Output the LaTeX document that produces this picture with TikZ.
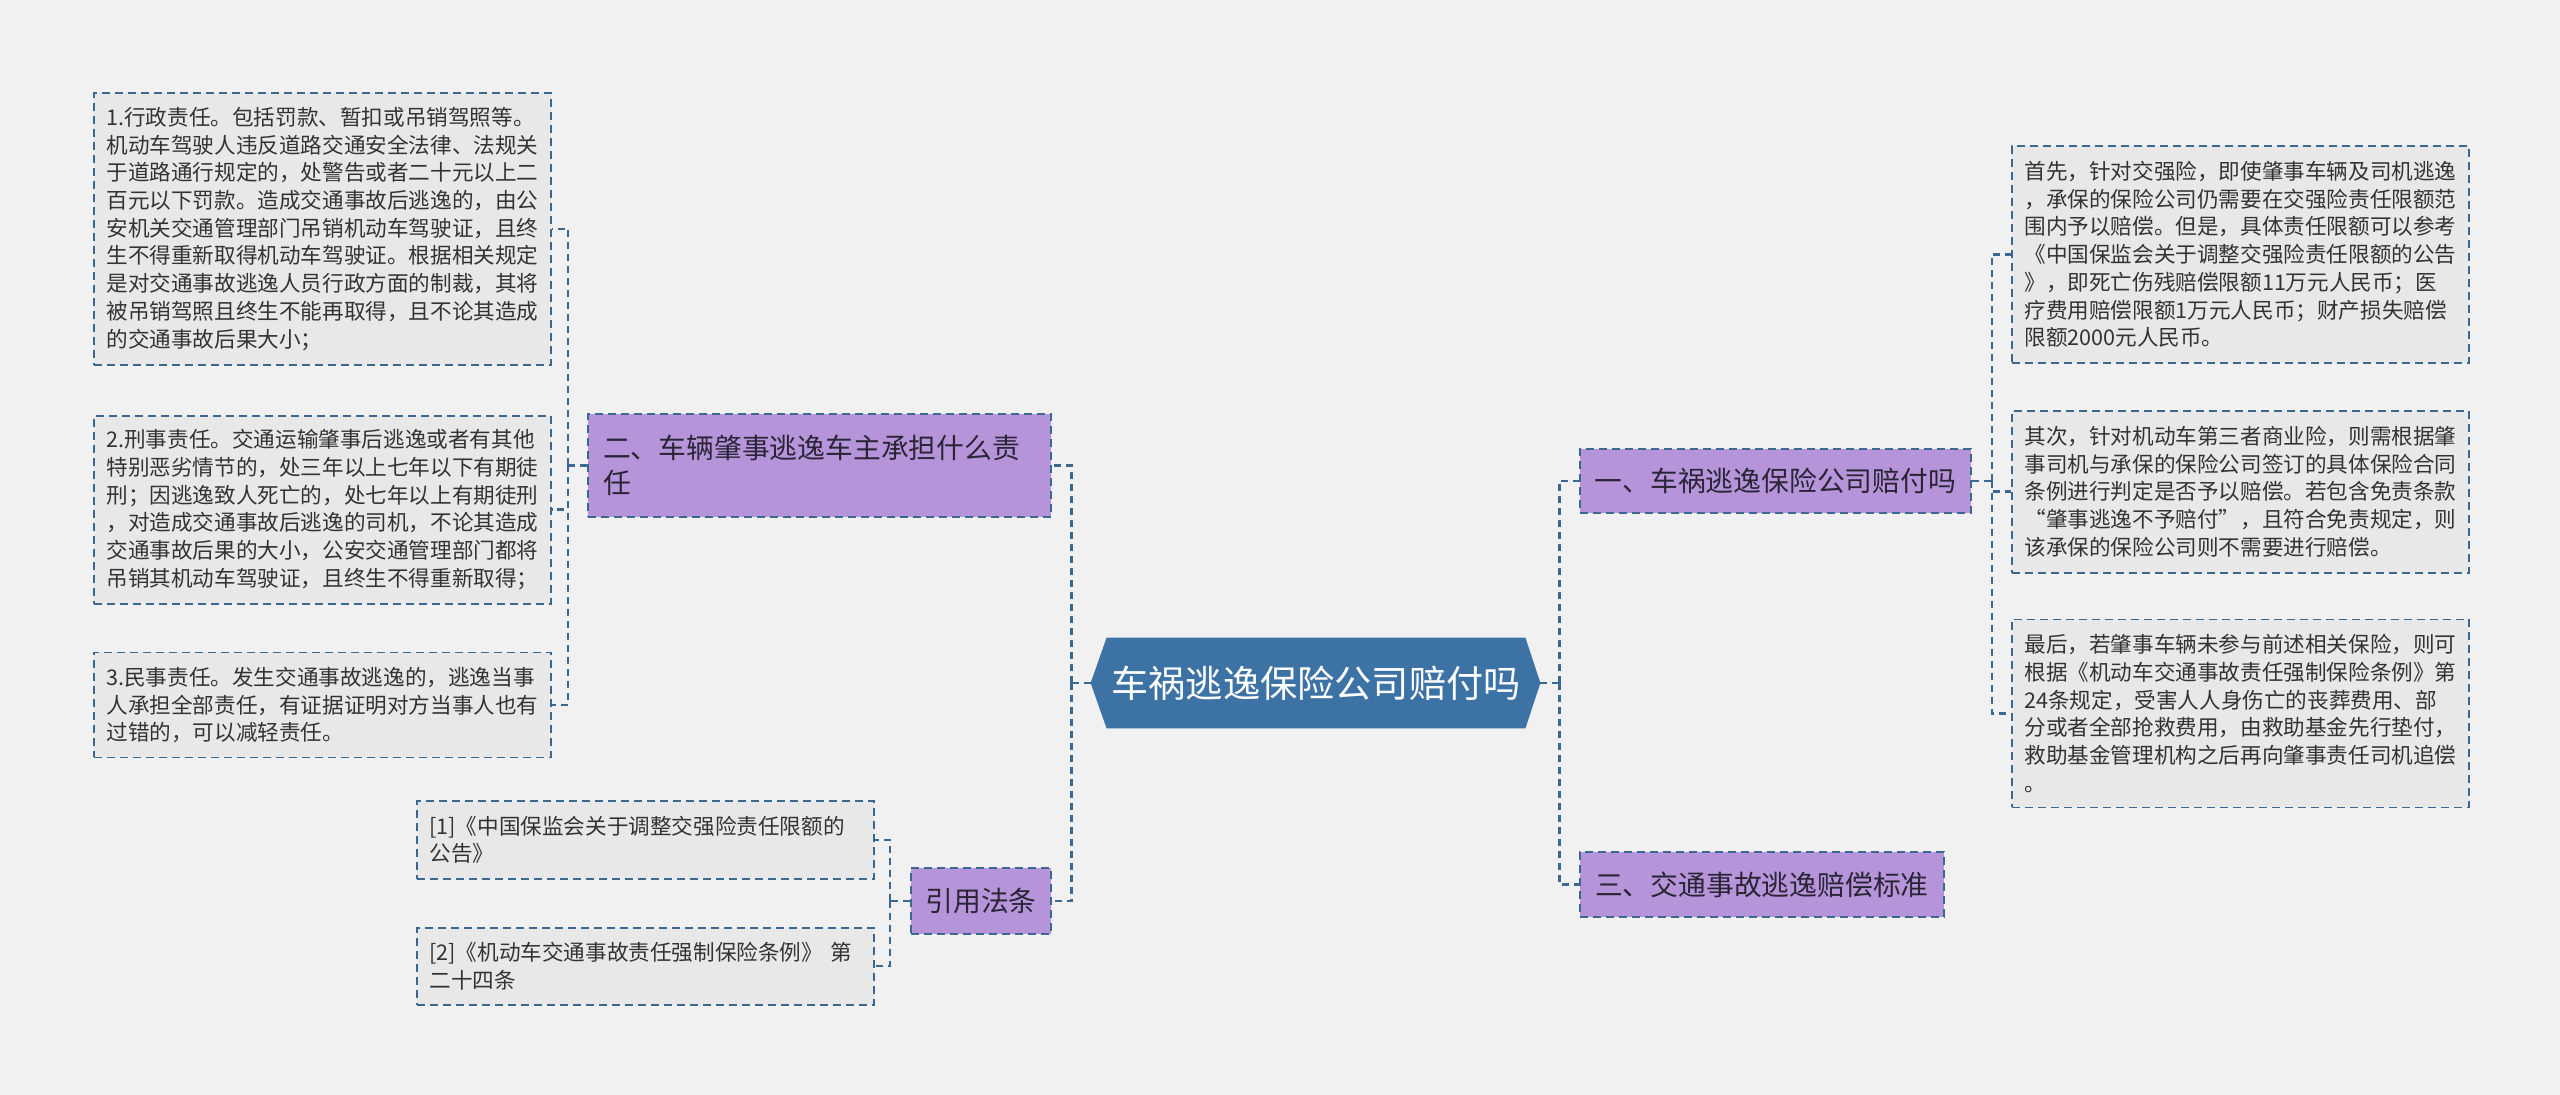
\documentclass[tikz,border=0pt]{standalone}
\usepackage{fontspec}
\setmainfont{Noto Sans CJK SC}
\usetikzlibrary{positioning,backgrounds,calc}
\definecolor{pagegray}{HTML}{F1F1F1}
\definecolor{leafgray}{HTML}{E8E8E8}
\definecolor{hubblue}{HTML}{3D72A5}
\definecolor{topicpurple}{HTML}{B694D9}
\definecolor{linkblue}{HTML}{3A6890}
\definecolor{inkgray}{HTML}{333333}
\definecolor{topicink}{HTML}{2A2536}

\begin{document}
\begin{tikzpicture}[
    x=0.5pt, y=-0.5pt,
    hub/.style={
        text=white, inner sep=0pt,
        minimum width=209pt, minimum height=45pt,
        font=\fontsize{18.6pt}{21pt}\selectfont
    },
    topic/.style={
        draw=linkblue, fill=topicpurple, text=topicink,
        line width=0.9pt, dash pattern=on 4pt off 2.5pt,
        inner xsep=7pt, inner ysep=0pt, minimum height=#1,
        font=\fontsize{13.9pt}{17.5pt}\selectfont
    },
    leaf/.style={
        draw=linkblue, fill=leafgray, text=inkgray,
        line width=0.9pt, dash pattern=on 4pt off 2.5pt,
        text width=216pt, align=left,
        inner xsep=6.25pt, inner ysep=0pt, minimum height=#1,
        font=\fontsize{10.8pt}{13.85pt}\selectfont
    },
    link/.style={draw=linkblue, line width=1.2pt, dash pattern=on 3.5pt off 2.5pt},
]
\useasboundingbox (0,0) rectangle (2560,1095);

% === Central topic ===
\node[hub] (question) at (1316,683) {车祸逃逸保险公司赔付吗};
\coordinate (qleft) at ([xshift=-8pt]question.west);
\coordinate (qright) at ([xshift=7.5pt]question.east);

% === Main branches ===
\node[topic=32pt, minimum width=195.5pt, anchor=west] (payout) at (1579,481) {一、车祸逃逸保险公司赔付吗};
\node[topic=32.5pt, minimum width=182pt, anchor=west] (standard) at (1579,884.5) {三、交通事故逃逸赔偿标准};
\node[topic=51.5pt, text width=216.5pt, inner xsep=7.5pt, align=left, anchor=east] (liability) at (1052,465.5)
    {二、车辆肇事逃逸车主承担什么责\\任};
\node[topic=33pt, minimum width=70pt, anchor=east] (lawref) at (1052,901) {引用法条};

% === Liability details (left) ===
\node[leaf=136pt, anchor=north west] (admin) at (93,92) {1.行政责任。包括罚款、暂扣或吊销驾照等。\\
机动车驾驶人违反道路交通安全法律、法规关\\
于道路通行规定的，处警告或者二十元以上二\\
百元以下罚款。造成交通事故后逃逸的，由公\\
安机关交通管理部门吊销机动车驾驶证，且终\\
生不得重新取得机动车驾驶证。根据相关规定\\
是对交通事故逃逸人员行政方面的制裁，其将\\
被吊销驾照且终生不能再取得，且不论其造成\\
的交通事故后果大小；};
\node[leaf=94pt, below=24.5pt of admin] (criminal) {2.刑事责任。交通运输肇事后逃逸或者有其他\\
特别恶劣情节的，处三年以上七年以下有期徒\\
刑；因逃逸致人死亡的，处七年以上有期徒刑\\
，对造成交通事故后逃逸的司机，不论其造成\\
交通事故后果的大小，公安交通管理部门都将\\
吊销其机动车驾驶证，且终生不得重新取得；};
\node[leaf=52.5pt, below=23.5pt of criminal] (civil) {3.民事责任。发生交通事故逃逸的，逃逸当事\\
人承担全部责任，有证据证明对方当事人也有\\
过错的，可以减轻责任。};

% === Cited laws ===
\node[leaf=39pt, anchor=north west] (law1) at (416,800) {[1]《中国保监会关于调整交强险责任限额的\\公告》};
\node[leaf=38.5pt, below=23.5pt of law1] (law2) {[2]《机动车交通事故责任强制保险条例》 第\\二十四条};

% === Payout details (right) ===
\node[leaf=108.5pt, anchor=north west] (firstly) at (2011,145) {首先，针对交强险，即使肇事车辆及司机逃逸\\
，承保的保险公司仍需要在交强险责任限额范\\
围内予以赔偿。但是，具体责任限额可以参考\\
《中国保监会关于调整交强险责任限额的公告\\
》，即死亡伤残赔偿限额11万元人民币；医\\
疗费用赔偿限额1万元人民币；财产损失赔偿\\
限额2000元人民币。};
\node[leaf=81pt, below=23pt of firstly] (secondly) {其次，针对机动车第三者商业险，则需根据肇\\
事司机与承保的保险公司签订的具体保险合同\\
条例进行判定是否予以赔偿。若包含免责条款\\
“肇事逃逸不予赔付”，且符合免责规定，则\\
该承保的保险公司则不需要进行赔偿。};
\node[leaf=94pt, below=22.5pt of secondly] (finally) {最后，若肇事车辆未参与前述相关保险，则可\\
根据《机动车交通事故责任强制保险条例》第\\
24条规定，受害人人身伤亡的丧葬费用、部\\
分或者全部抢救费用，由救助基金先行垫付，\\
救助基金管理机构之后再向肇事责任司机追偿\\
。};

% === Background and hexagon ===
\begin{scope}[on background layer]
\fill[pagegray] (0,0) rectangle (2560,1095);
\fill[hubblue] (question.north west) -- (question.north east) -- (qright)
    -- (question.south east) -- (question.south west) -- (qleft) -- cycle;
\end{scope}

% === Connectors ===
\draw[link] (qright) -- ++(9.5pt,0) coordinate (rjoin);
\draw[link] (rjoin) |- (payout.west);
\draw[link] (rjoin) |- (standard.west);
\draw[link] (qleft) -- ++(-9.5pt,0) coordinate (ljoin);
\draw[link] (ljoin) |- (liability.east);
\draw[link] (ljoin) |- (lawref.east);

\draw[link] (payout.east) -- ++(10pt,0) coordinate (pjoin);
\foreach \n in {firstly,secondly,finally}
    \draw[link] (pjoin) |- (\n.west);
\draw[link] (liability.west) -- ++(-9.5pt,0) coordinate (ljoin2);
\foreach \n in {admin,criminal,civil}
    \draw[link] (ljoin2) |- (\n.east);
\draw[link] (lawref.west) -- ++(-10pt,0) coordinate (fjoin);
\foreach \n in {law1,law2}
    \draw[link] (fjoin) |- (\n.east);

\end{tikzpicture}
\end{document}
